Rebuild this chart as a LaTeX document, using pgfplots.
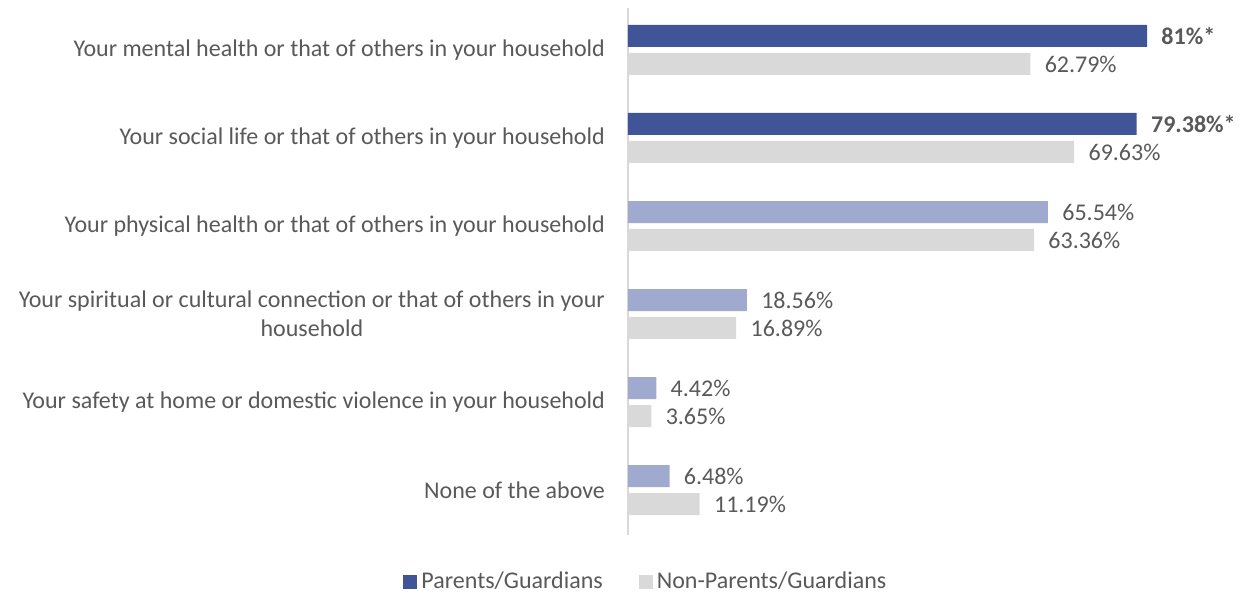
\documentclass[border=0pt]{standalone}
\usepackage{pgfplots}
\pgfplotsset{compat=1.18}
\usepackage{fontspec}
\setmainfont{Carlito}
\definecolor{darkbar}{HTML}{3F5597}
\definecolor{lightbar}{HTML}{A0AACE}
\definecolor{graybar}{HTML}{D9D9D9}
\definecolor{txt}{HTML}{595959}
\begin{document}
\begin{tikzpicture}
\useasboundingbox (-314pt,-31.5pt) rectangle (307.5pt,267.5pt);
\begin{axis}[
  at={(0,0)}, anchor=south west,
  scale only axis,
  width=304.4pt, height=263.5pt,
  xbar, bar width=11pt,
  xmin=0, xmax=95,
  ymin=-0.477, ymax=5.511,
  y dir=reverse,
  axis x line=none,
  axis y line*=left,
  y axis line style={draw=graybar, line width=0.8pt},
  ytick={0,1,2,3,4,5},
  yticklabels={
    Your mental health or that of others in your household,
    Your social life or that of others in your household,
    Your physical health or that of others in your household,
    {Your spiritual or cultural connection or that of others in your\\household},
    Your safety at home or domestic violence in your household,
    None of the above},
  major tick length=0pt,
  yticklabel style={align=center, font=\fontsize{12}{14.5}\selectfont, text=txt, xshift=-8pt},
  point meta=explicit symbolic,
  nodes near coords,
  nodes near coords style={anchor=west, inner sep=0pt, xshift=7pt, font=\fontsize{12}{14}\selectfont, text=txt},
  legend style={at={(0.031,-0.089)}, anchor=center, draw=none, legend columns=2,
    font=\fontsize{12}{14}\selectfont, text=txt,
    /tikz/every even column/.append style={column sep=16pt}},
  legend image code/.code={\fill[#1] (0pt,-3.5pt) rectangle (7pt,3.5pt);},
]
\addplot[fill=darkbar, draw=none, bar shift=0pt, nodes near coords style={font=\fontsize{12}{14}\selectfont\bfseries}]
  coordinates {(81,-0.159) [81\%*] (79.38,0.841) [79.38\%*]};
\addlegendentry{Parents/Guardians}
\addplot[fill=lightbar, draw=none, bar shift=0pt, forget plot]
  coordinates {(65.54,1.841) [65.54\%] (18.56,2.841) [18.56\%] (4.42,3.841) [4.42\%] (6.48,4.841) [6.48\%]};
\addplot[fill=graybar, draw=none, bar shift=0pt]
  coordinates {(62.79,0.159) [62.79\%] (69.63,1.159) [69.63\%] (63.36,2.159) [63.36\%] (16.89,3.159) [16.89\%] (3.65,4.159) [3.65\%] (11.19,5.159) [11.19\%]};
\addlegendentry{Non-Parents/Guardians}
\end{axis}
\end{tikzpicture}
\end{document}
